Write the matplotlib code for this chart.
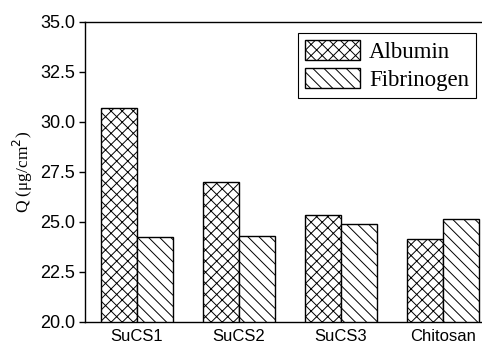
import matplotlib
matplotlib.use("Agg")
import matplotlib.pyplot as plt
import numpy as np

categories = ["SuCS1", "SuCS2", "SuCS3", "Chitosan"]
albumin = [30.7, 27.0, 25.35, 24.15]
fibrinogen = [24.25, 24.3, 24.9, 25.15]
yticks = [20.0, 22.5, 25.0, 27.5, 30.0, 32.5, 35.0]

plt.rcParams['hatch.linewidth'] = 0.7
fig = plt.figure(figsize=(4.82, 3.44), dpi=100)
ax = fig.add_axes([85/482, 22/344, 397/482, 300/344])

x = np.arange(len(categories))
w = 0.355
ax.bar(x - w/2, albumin, w, color='white', edgecolor='black',
       hatch='xxx', linewidth=1.0, label='Albumin')
ax.bar(x + w/2, fibrinogen, w, color='white', edgecolor='black',
       hatch='\\\\\\', linewidth=1.0, label='Fibrinogen')

ax.set_ylim(20, 35)
ax.set_xlim(-0.51, (482-137)/102)
ax.set_yticks(yticks)
ax.set_yticklabels([f"{v:.1f}" for v in yticks], fontfamily='Liberation Sans', fontsize=13)
ax.set_xticks(x)
ax.set_xticklabels(categories, fontfamily='Liberation Sans', fontsize=12)
ax.tick_params(axis='x', length=0, pad=5)
ax.tick_params(axis='y', direction='out', length=4, width=1, pad=3)
ax.spines['right'].set_visible(False)
for s in ['left', 'bottom', 'top']:
    ax.spines[s].set_linewidth(1.0)
ax.set_ylabel("Q (μg/cm$^2$)", fontfamily='Liberation Serif', fontsize=12.5, labelpad=4)

leg = ax.legend(loc='upper right', bbox_to_anchor=(0.985, 0.963),
                prop={'family': 'Liberation Serif', 'size': 16.5},
                fancybox=False, edgecolor='black', framealpha=1,
                handlelength=2.4, handleheight=0.95, borderpad=0.3,
                labelspacing=0.25, handletextpad=0.4, borderaxespad=0)
leg.get_frame().set_linewidth(0.8)

fig.savefig("out.png", dpi=100)
